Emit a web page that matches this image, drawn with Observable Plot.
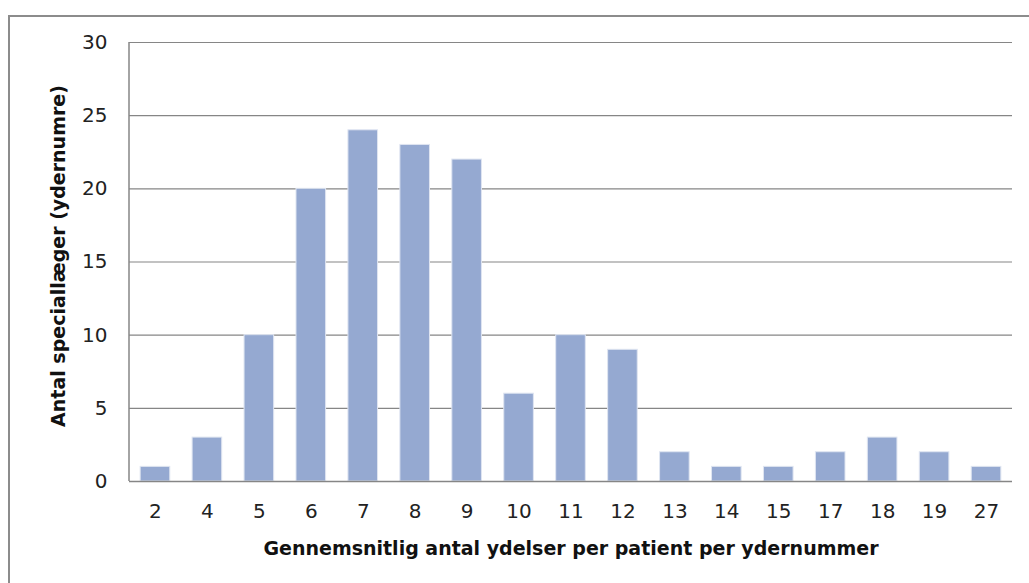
<!DOCTYPE html>
<html>
<head>
<meta charset="utf-8">
<script src="https://cdn.jsdelivr.net/npm/d3@7"></script>
<script src="https://cdn.jsdelivr.net/npm/@observablehq/plot@0.6"></script>
<style>
  html, body { margin: 0; padding: 0; background: #fff; }
  #wrap { position: relative; width: 1029px; height: 583px; overflow: hidden; }
  #border { position: absolute; left: 8px; top: 15px; width: 1100px; height: 700px; border: 2px solid #8c8c8c; box-sizing: border-box; }
  #chart { position: absolute; left: 0; top: 0; }
</style>
</head>
<body>
<div id="wrap">
  <div id="border"></div>
  <div id="chart"></div>
</div>
<script>
const categories = ["2","4","5","6","7","8","9","10","11","12","13","14","15","17","18","19","27"];
const values = [1,3,10,20,24,23,22,6,10,9,2,1,1,2,3,2,1];
const yTicks = [0,5,10,15,20,25,30];
const xTitle = "Gennemsnitlig antal ydelser per patient per ydernummer";
const yTitle = "Antal speciallæger (ydernumre)";

const data = categories.map((c, i) => ({cat: c, n: values[i]}));

const leftLine = (index, scales, vals, dims) => {
  const l = dims.marginLeft;
  return d3.create("svg:line")
    .attr("x1", l).attr("x2", l)
    .attr("y1", scales.y(30)).attr("y2", scales.y(0))
    .attr("stroke", "#868686").attr("stroke-width", 1.5)
    .node();
};

const chart = Plot.plot({
  width: 1029,
  height: 583,
  marginLeft: 129,
  marginRight: 17,
  marginTop: 42,
  marginBottom: 102,
  style: {fontFamily: "DejaVu Sans", fontSize: "20px", color: "#222", background: "transparent"},
  x: {domain: categories, paddingInner: 0.43, paddingOuter: 0.215, round: false, label: null},
  y: {domain: [0, 30], label: null},
  marks: [
    Plot.gridY(yTicks, {stroke: "#868686", strokeOpacity: 1, strokeWidth: 1.2}),
    Plot.barY(data, {x: "cat", y: "n", fill: "#95a9d1", stroke: "#dfe5f1", strokeWidth: 1}),
    Plot.ruleY([0], {stroke: "#868686", strokeWidth: 1.5}),
    leftLine,
    Plot.axisY({ticks: yTicks, tickSize: 0, tickPadding: 22, fontSize: 20, fill: "#222"}),
    Plot.axisX({tickSize: 0, tickPadding: 22, fontSize: 20, fill: "#222"}),
    Plot.text([xTitle], {frameAnchor: "bottom", dy: 67, textAnchor: "middle", lineAnchor: "middle", fontWeight: "bold", fontSize: 19, fill: "#111"}),
    Plot.text([yTitle], {frameAnchor: "left", dx: -71, dy: -6, textAnchor: "middle", lineAnchor: "middle", rotate: -90, fontWeight: "bold", fontSize: 19, fill: "#111"})
  ]
});
document.getElementById("chart").appendChild(chart);
</script>
</body>
</html>
